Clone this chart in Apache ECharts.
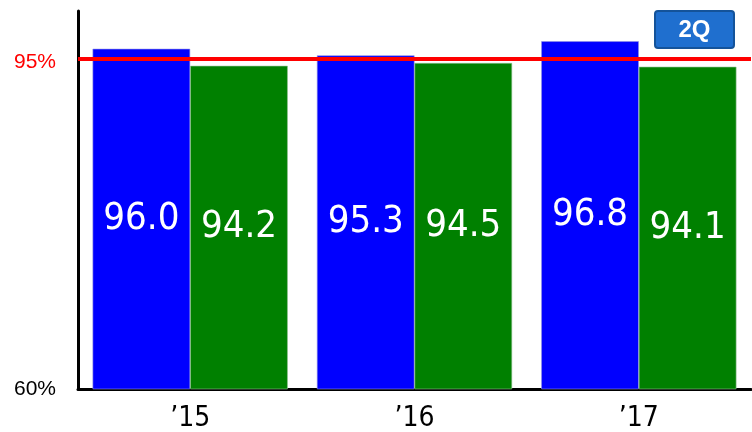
<!DOCTYPE html>
<html>
<head>
<meta charset="utf-8">
<script src="https://cdn.jsdelivr.net/npm/echarts@6/dist/echarts.min.js"></script>
<style>html,body{margin:0;padding:0;background:#fff}#c{width:752px;height:432px}</style>
</head>
<body>
<div id="c"></div>
<script>
const categories = ["’15", "’16", "’17"];
const seriesA = [96.0, 95.3, 96.8];
const seriesB = [94.2, 94.5, 94.1];
const targetValue = 95;
const yTickLabels = {60: "60%", 95: "95%"};
const badgeText = "2Q";

const chart = echarts.init(document.getElementById('c'));
const numFont = "'DejaVu Sans Condensed', 'Liberation Sans', sans-serif";
chart.setOption({
  animation: false,
  grid: {left: 78, right: 1, top: 11, bottom: 43, outerBoundsMode: 'none', containLabel: false},
  xAxis: {
    type: 'category',
    data: categories,
    axisLine: {lineStyle: {color: '#000', width: 3}},
    axisTick: {show: false},
    axisLabel: {color: '#000', fontSize: 28, fontFamily: numFont, margin: 16}
  },
  yAxis: {
    type: 'value',
    min: 60, max: 100, interval: 5,
    splitLine: {show: false},
    axisLine: {show: true, lineStyle: {color: '#000', width: 3}},
    axisTick: {show: false},
    axisLabel: {
      margin: 22,
      fontSize: 21,
      fontFamily: "'Liberation Sans', Arial, sans-serif",
      color: '#000',
      formatter: function (v) {
        if (v === 95) return '{r|' + yTickLabels[95] + '}';
        if (v === 60) return yTickLabels[60];
        return '';
      },
      rich: {r: {color: '#ff0000', fontSize: 21, fontFamily: "'Liberation Sans', Arial, sans-serif", padding: [8, 0, 0, 0]}}
    }
  },
  series: [
    {
      type: 'bar', data: seriesA, barCategoryGap: '13%', barGap: '0%',
      itemStyle: {color: '#0000ff', borderColor: '#9090e0', borderWidth: 0.6},
      label: {show: true, position: 'inside', color: '#fff', fontSize: 38, fontFamily: numFont,
        formatter: p => p.value.toFixed(1)},
      markLine: {
        silent: true, symbol: 'none', label: {show: false},
        lineStyle: {color: '#ff0000', width: 4, type: 'solid'},
        data: [{yAxis: targetValue}]
      },
      z: 2
    },
    {
      type: 'bar', data: seriesB, barCategoryGap: '13%', barGap: '0%',
      itemStyle: {color: '#008000', borderColor: '#90c090', borderWidth: 0.6},
      label: {show: true, position: 'inside', color: '#fff', fontSize: 38, fontFamily: numFont,
        formatter: p => p.value.toFixed(1)}
    }
  ],
  graphic: [
    {
      type: 'group', left: 654, top: 10, z: 100,
      children: [
        {type: 'rect', shape: {x: 0, y: 0, width: 79, height: 37, r: 3},
          style: {fill: '#1f6fcf', stroke: '#14539a', lineWidth: 2}},
        {type: 'text', style: {text: badgeText, x: 39.5, y: 19, align: 'center', verticalAlign: 'middle',
          fill: '#fff', font: "bold 24px 'Liberation Sans', Arial, sans-serif"}}
      ]
    }
  ]
});
</script>
</body>
</html>
